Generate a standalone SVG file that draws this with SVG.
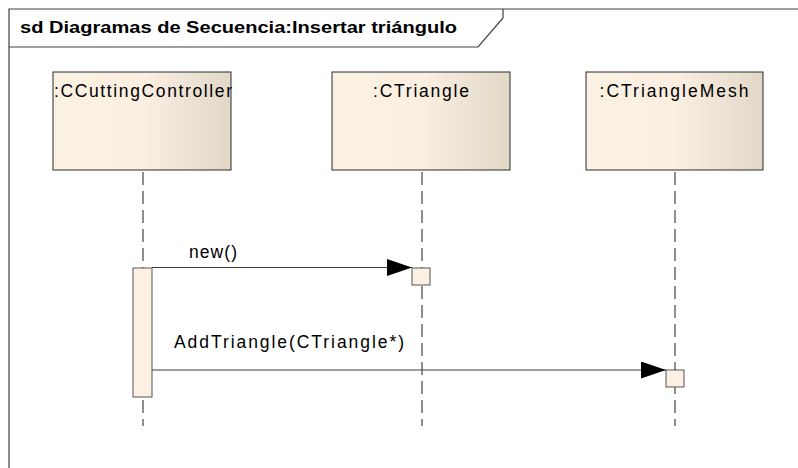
<svg xmlns="http://www.w3.org/2000/svg" width="798" height="468" viewBox="0 0 798 468">
  <defs>
    <linearGradient id="lifelineFill" x1="0" y1="0" x2="1" y2="0">
      <stop offset="0" stop-color="#FBF1E3"/>
      <stop offset="0.5" stop-color="#FAEFE1"/>
      <stop offset="1" stop-color="#E2D8C8"/>
    </linearGradient>
    <marker id="arrowFilled" viewBox="0 0 25 17" refX="25" refY="8.5" markerWidth="25" markerHeight="17" markerUnits="userSpaceOnUse" orient="auto">
      <path d="M0,0 L25,8.5 L0,17 Z" fill="#000"/>
    </marker>
  </defs>
  <style>
    .frame { fill: none; stroke: #404040; stroke-width: 1.2; }
    .title { font-family: "Liberation Sans", Arial, sans-serif; font-weight: bold; font-size: 16.5px; fill: #000; }
    .head { fill: url(#lifelineFill); stroke: #2a2a2a; stroke-width: 1; }
    .label { font-family: "Liberation Sans", Arial, sans-serif; font-size: 17.5px; fill: #000; }
    .lifeline { stroke: #444; stroke-width: 1.2; stroke-dasharray: 13 6; fill: none; }
    .activation { fill: #FBF0E2; stroke: #555; stroke-width: 1; }
    .message { stroke: #404040; stroke-width: 1.2; fill: none; marker-end: url(#arrowFilled); }
  </style>
  <rect width="798" height="468" fill="#fff"/>

  <!-- interaction frame with name tab -->
  <g id="frame">
    <path class="frame" d="M9,468 L9,9 L798,9"/>
    <path class="frame" d="M9,47 L478,47 L503,18 L503,9"/>
    <text class="title" x="20" y="33" textLength="437" lengthAdjust="spacingAndGlyphs">sd Diagramas de Secuencia:Insertar triángulo</text>
  </g>

  <!-- lifelines -->
  <g id="lifeline-controller">
    <rect class="head" x="53" y="72" width="178" height="98"/>
    <text class="label" x="143" y="97" text-anchor="middle" textLength="178" lengthAdjust="spacing">:CCuttingController</text>
    <line class="lifeline" x1="143" y1="172" x2="143" y2="426"/>
    <rect class="activation" x="133" y="268" width="19" height="129"/>
  </g>

  <g id="lifeline-triangle">
    <rect class="head" x="332" y="72" width="178" height="98"/>
    <text class="label" x="421" y="97" text-anchor="middle" textLength="96" lengthAdjust="spacing">:CTriangle</text>
    <line class="lifeline" x1="422" y1="172" x2="422" y2="426"/>
    <rect class="activation" x="412" y="268" width="18" height="17"/>
  </g>

  <g id="lifeline-mesh">
    <rect class="head" x="586" y="72" width="177" height="98"/>
    <text class="label" x="674" y="97" text-anchor="middle" textLength="149" lengthAdjust="spacing">:CTriangleMesh</text>
    <line class="lifeline" x1="675" y1="172" x2="675" y2="426"/>
    <rect class="activation" x="666" y="370" width="18" height="17"/>
  </g>

  <!-- messages -->
  <g id="connectors">
    <line class="message" x1="152" y1="267.5" x2="412" y2="267.5"/>
    <text class="label" x="189" y="258" textLength="48" lengthAdjust="spacing">new()</text>
    <line class="message" x1="152" y1="370" x2="666" y2="370"/>
    <text class="label" x="174" y="348" textLength="230" lengthAdjust="spacing">AddTriangle(CTriangle*)</text>
  </g>
</svg>
